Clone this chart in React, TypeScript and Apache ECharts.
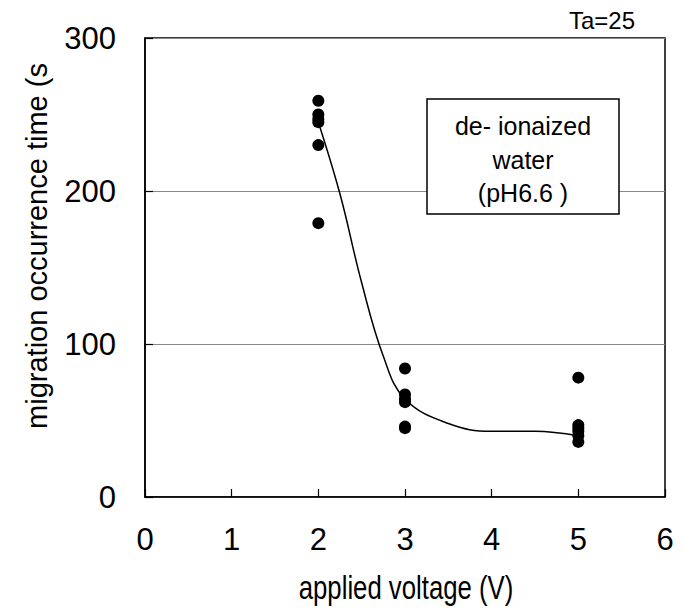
import React, { useEffect, useRef } from "react";
import * as echarts from "echarts";

const voltages2 = [2, 2, 2, 2, 2, 2];
const times2 = [259, 250, 247, 245, 230, 179];
const voltages3 = [3, 3, 3, 3, 3, 3];
const times3 = [84, 67, 64, 62, 46, 45];
const voltages5 = [5, 5, 5, 5, 5, 5];
const times5 = [78, 47, 45, 43, 40, 36];
const fitX = [2, 2.25, 2.5, 2.75, 3, 3.5, 4, 4.5, 5];
const fitY = [245, 198, 140, 92, 64, 48, 43, 43, 40];
const xTicks = [0, 1, 2, 3, 4, 5, 6];
const yTicks = [0, 100, 200, 300];

const FONT = "Liberation Sans, Arial, sans-serif";

export default function App() {
  const ref = useRef<HTMLDivElement>(null);
  useEffect(() => {
    if (!ref.current) return;
    const chart = echarts.init(ref.current, undefined, { renderer: "svg" });
    const pts = [
      ...voltages2.map((v, i) => [v, times2[i]]),
      ...voltages3.map((v, i) => [v, times3[i]]),
      ...voltages5.map((v, i) => [v, times5[i]]),
    ];
    chart.setOption({
      animation: false,
      backgroundColor: "#fff",
      textStyle: { fontFamily: FONT },
      grid: {
        left: 145,
        right: 18,
        top: 38,
        bottom: 112,
        show: true,
        borderColor: "#000",
        borderWidth: 1.5,
        backgroundColor: "transparent",
      },
      xAxis: {
        type: "value",
        min: xTicks[0],
        max: xTicks[xTicks.length - 1],
        interval: 1,
        axisLine: { show: true, lineStyle: { color: "#000", width: 1.5 } },
        axisTick: { show: true, inside: true, length: 8, lineStyle: { color: "#000", width: 1.2 } },
        splitLine: { show: false },
        axisLabel: { color: "#000", fontSize: 31, margin: 27, fontFamily: FONT },
      },
      yAxis: {
        type: "value",
        min: yTicks[0],
        max: yTicks[yTicks.length - 1],
        interval: 100,
        axisLine: { show: true, lineStyle: { color: "#000", width: 1.5 } },
        axisTick: { show: true, inside: true, length: 8, lineStyle: { color: "#000", width: 1.2 } },
        splitLine: { show: true, lineStyle: { color: "#888", width: 1.2 } },
        axisLabel: { color: "#000", fontSize: 31, margin: 29, fontFamily: FONT },
      },
      series: [
        {
          type: "line",
          data: fitX.map((x, i) => [x, fitY[i]]),
          smooth: 0.4,
          showSymbol: false,
          lineStyle: { color: "#000", width: 1.5 },
          z: 2,
        },
        {
          type: "scatter",
          data: pts,
          symbol: "circle",
          symbolSize: 12,
          itemStyle: { color: "#000", opacity: 1 },
          z: 3,
        },
      ],
      graphic: [
        {
          type: "rect",
          shape: { x: 427, y: 99, width: 192, height: 115 },
          style: { fill: "#fff", stroke: "#000", lineWidth: 1.5 },
          z: 10,
        },
        {
          type: "text",
          x: 523,
          y: 126,
          style: { text: "de‑ ionaized", fontSize: 25, fontFamily: FONT, fill: "#000", align: "center", verticalAlign: "middle" },
          z: 11,
        },
        {
          type: "text",
          x: 523,
          y: 160,
          style: { text: "water", fontSize: 25, fontFamily: FONT, fill: "#000", align: "center", verticalAlign: "middle" },
          z: 11,
        },
        {
          type: "text",
          x: 523,
          y: 193,
          style: { text: "(pH6.6 )", fontSize: 25, fontFamily: FONT, fill: "#000", align: "center", verticalAlign: "middle" },
          z: 11,
        },
        {
          type: "text",
          x: 635,
          y: 20,
          style: { text: "Ta=25", fontSize: 24, fontFamily: FONT, fill: "#000", align: "right", verticalAlign: "middle" },
        },
        {
          type: "text",
          x: 406,
          y: 587,
          scaleX: 0.78,
          style: { text: "applied voltage (V)", fontSize: 33, fontFamily: FONT, fill: "#000", align: "center", verticalAlign: "middle" },
        },
        {
          type: "text",
          x: 37,
          y: 246,
          rotation: Math.PI / 2,
          style: { text: "migration occurrence time (s", fontSize: 29, fontFamily: FONT, fill: "#000", align: "center", verticalAlign: "middle" },
        },
      ],
    });
    return () => chart.dispose();
  }, []);
  return <div ref={ref} style={{ width: 683, height: 609, position: "absolute", left: 0, top: 0 }} />;
}
